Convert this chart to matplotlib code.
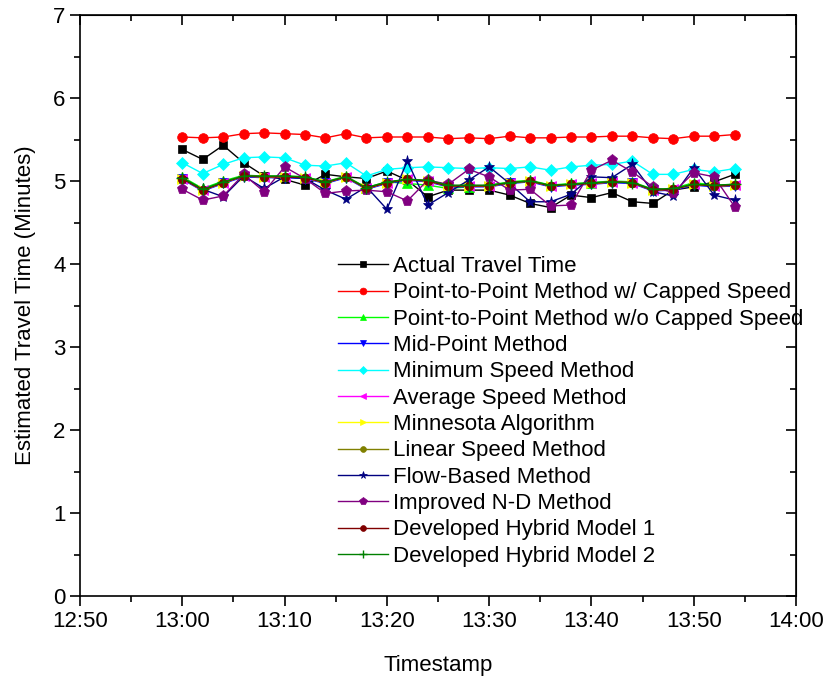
import matplotlib
matplotlib.use("Agg")
import matplotlib.pyplot as plt
from matplotlib.ticker import MultipleLocator

plt.rcParams['font.family'] = ['Liberation Sans', 'DejaVu Sans']
FS = 16

timestamps = ["13:00", "13:02", "13:04", "13:06", "13:08", "13:10", "13:12", "13:14",
              "13:16", "13:18", "13:20", "13:22", "13:24", "13:26", "13:28", "13:30",
              "13:32", "13:34", "13:36", "13:38", "13:40", "13:42", "13:44", "13:46",
              "13:48", "13:50", "13:52", "13:54"]

actual = [5.38, 5.26, 5.43, 5.22, 5.06, 5.02, 4.95, 5.08, 5.05, 5.03, 5.12, 5.01, 4.81, 4.89,
          4.89, 4.89, 4.83, 4.73, 4.68, 4.83, 4.80, 4.86, 4.75, 4.73, 4.89, 4.93, 4.99, 5.08]
p2p_capped = [5.53, 5.52, 5.53, 5.57, 5.58, 5.57, 5.56, 5.52, 5.57, 5.52, 5.53, 5.53, 5.53, 5.51,
              5.52, 5.51, 5.54, 5.52, 5.52, 5.53, 5.53, 5.54, 5.54, 5.52, 5.51, 5.54, 5.54, 5.56]
p2p_uncapped = [5.05, 4.91, 5.00, 5.07, 5.06, 5.06, 5.05, 4.99, 5.06, 4.92, 4.99, 4.97, 4.95, 4.91,
                4.93, 4.95, 4.99, 5.01, 4.95, 4.97, 4.98, 5.00, 4.99, 4.90, 4.91, 4.98, 4.95, 4.96]
mid_point = [5.02, 4.88, 4.97, 5.05, 5.04, 5.04, 5.03, 4.97, 5.04, 4.90, 4.97, 5.01, 4.99, 4.93,
             4.93, 4.93, 4.97, 4.99, 4.93, 4.95, 4.96, 4.98, 4.97, 4.88, 4.89, 4.95, 4.93, 4.94]
minimum_speed = [5.22, 5.09, 5.20, 5.28, 5.29, 5.28, 5.19, 5.18, 5.22, 5.06, 5.14, 5.16, 5.17, 5.16,
                 5.15, 5.16, 5.15, 5.17, 5.13, 5.17, 5.19, 5.20, 5.24, 5.08, 5.08, 5.14, 5.11, 5.15]
average_speed = [5.03, 4.89, 4.98, 5.06, 5.05, 5.05, 5.04, 4.98, 5.05, 4.91, 4.98, 5.02, 5.00, 4.94,
                 4.94, 4.94, 4.98, 5.00, 4.94, 4.96, 4.97, 4.99, 4.98, 4.89, 4.90, 4.96, 4.94, 4.95]
minnesota = [5.03, 4.89, 4.98, 5.06, 5.05, 5.05, 5.04, 4.98, 5.05, 4.91, 4.98, 5.02, 5.00, 4.94,
             4.94, 4.94, 4.98, 5.00, 4.94, 4.96, 4.97, 4.99, 4.98, 4.89, 4.90, 4.96, 4.94, 4.95]
linear_speed = [5.03, 4.89, 4.98, 5.06, 5.05, 5.05, 5.04, 4.98, 5.05, 4.91, 4.98, 5.02, 5.00, 4.94,
                4.94, 4.94, 4.98, 5.00, 4.94, 4.96, 4.97, 4.99, 4.98, 4.89, 4.90, 4.96, 4.94, 4.95]
flow_based = [5.03, 4.90, 4.81, 5.06, 4.91, 5.05, 5.03, 4.89, 4.78, 4.93, 4.66, 5.24, 4.71, 4.86,
              5.01, 5.17, 4.97, 4.75, 4.75, 4.84, 5.05, 5.04, 5.20, 4.87, 4.82, 5.16, 4.83, 4.77]
improved_nd = [4.90, 4.77, 4.82, 5.08, 4.87, 5.17, 5.03, 4.85, 4.88, 4.89, 4.87, 4.76, 5.01, 4.96,
               5.14, 5.05, 4.89, 4.90, 4.70, 4.71, 5.13, 5.25, 5.11, 4.93, 4.86, 5.10, 5.05, 4.69]
hybrid1 = [5.03, 4.89, 4.98, 5.06, 5.05, 5.05, 5.04, 4.98, 5.05, 4.91, 4.98, 5.02, 5.00, 4.94,
           4.94, 4.94, 4.98, 5.00, 4.94, 4.96, 4.97, 4.99, 4.98, 4.89, 4.90, 4.96, 4.94, 4.95]
hybrid2 = [5.04, 4.90, 4.99, 5.06, 5.06, 5.06, 5.05, 4.99, 5.05, 4.92, 4.99, 5.02, 5.01, 4.95,
           4.95, 4.95, 4.98, 5.00, 4.95, 4.96, 4.98, 4.99, 4.98, 4.90, 4.91, 4.96, 4.95, 4.96]

labels = ["Actual Travel Time", "Point-to-Point Method w/ Capped Speed",
          "Point-to-Point Method w/o Capped Speed", "Mid-Point Method",
          "Minimum Speed Method", "Average Speed Method", "Minnesota Algorithm",
          "Linear Speed Method", "Flow-Based Method", "Improved N-D Method",
          "Developed Hybrid Model 1", "Developed Hybrid Model 2"]

x_tick_labels = ["12:50", "13:00", "13:10", "13:20", "13:30", "13:40", "13:50", "14:00"]


def to_min(s):
    h, m = s.split(":")
    return int(h) * 60 + int(m)


x = [to_min(t) for t in timestamps]
series = [actual, p2p_capped, p2p_uncapped, mid_point, minimum_speed, average_speed,
          minnesota, linear_speed, flow_based, improved_nd, hybrid1, hybrid2]
colors = ["#000000", "#FF0000", "#00FF00", "#0000FF", "#00FFFF", "#FF00FF",
          "#FFFF00", "#808000", "#000080", "#800080", "#800000", "#008000"]
markers = ["s", "o", "^", "v", "D", "<", ">", "o", "*", "p", "o", "+"]
msizes = [6, 7, 6.5, 6.5, 6, 6.5, 6.5, 6, 8, 8, 6, 8]

fig = plt.figure(figsize=(8.27, 6.81), dpi=100)
ax = fig.add_axes([80 / 827, 1 - 596 / 681, (796 - 80) / 827, (596 - 15) / 681])

for y, c, m, ms, lab in zip(series, colors, markers, msizes, labels):
    ax.plot(x, y, color=c, marker=m, markersize=ms, linewidth=1.0, label=lab,
            markeredgewidth=1.0 if m == "+" else 0.5)

xt = [to_min(t) for t in x_tick_labels]
ax.set_xlim(xt[0], xt[-1])
ax.set_ylim(0, 7)
ax.set_xticks(xt)
ax.set_xticklabels(x_tick_labels)
ax.xaxis.set_minor_locator(MultipleLocator(5))
ax.yaxis.set_major_locator(MultipleLocator(1))
ax.yaxis.set_minor_locator(MultipleLocator(0.5))

ax.tick_params(axis='both', which='both', direction='out', labelsize=FS, width=1.2,
               top=False, right=False)
ax.tick_params(which='major', length=7)
ax.tick_params(which='minor', length=4)
for s in ax.spines.values():
    s.set_linewidth(1.2)

axt = ax.secondary_xaxis('top')
axt.set_xticks(xt)
axt.xaxis.set_minor_locator(MultipleLocator(5))
axt.tick_params(which='both', direction='in', labeltop=False, width=1.2)
axt.tick_params(which='major', length=7)
axt.tick_params(which='minor', length=4)
axt.set_xticklabels([])
axr = ax.secondary_yaxis('right')
axr.yaxis.set_major_locator(MultipleLocator(1))
axr.yaxis.set_minor_locator(MultipleLocator(0.5))
axr.tick_params(which='both', direction='in', labelright=False, width=1.2)
axr.tick_params(which='major', length=7)
axr.tick_params(which='minor', length=4)
axr.set_yticklabels([])

ax.set_xlabel("Timestamp", fontsize=FS, labelpad=17)
ax.set_ylabel("Estimated Travel Time (Minutes)", fontsize=FS, labelpad=12)

ax.legend(loc='upper left', bbox_to_anchor=((338 - 80) / 716, (596 - 256) / 581),
          frameon=False, fontsize=FS, handlelength=2.25, handletextpad=0.22,
          labelspacing=0.24, borderaxespad=0, borderpad=0, markerscale=0.7)

fig.savefig("out.png", dpi=100)
